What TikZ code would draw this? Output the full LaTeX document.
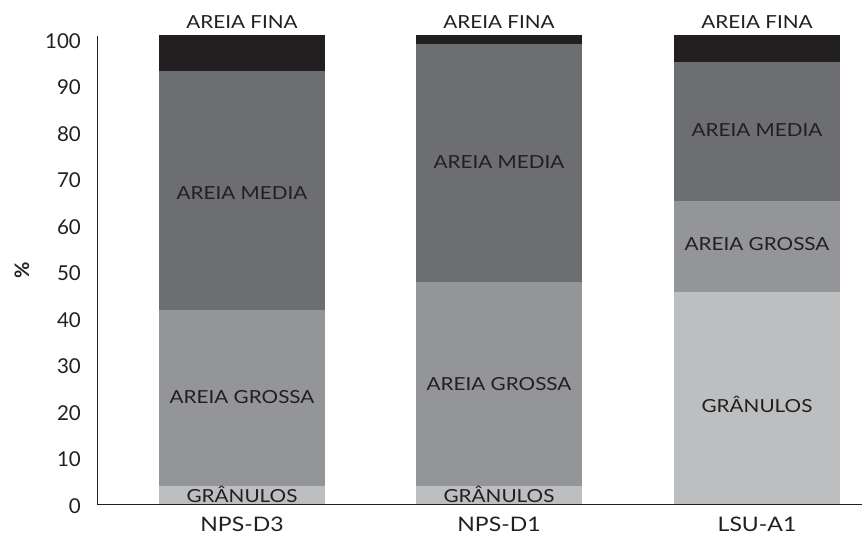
\documentclass[tikz,border=0pt]{standalone}
\usepackage{fontspec}
\setmainfont{Lato}
\newfontfamily\widelato[FakeStretch=1.15]{Lato}
\definecolor{cfina}{HTML}{231F20}
\definecolor{cmedia}{HTML}{6D6E71}
\definecolor{cgrossa}{HTML}{939598}
\definecolor{cgran}{HTML}{BCBEC0}
\definecolor{ctext}{HTML}{231F20}
\begin{document}
\begin{tikzpicture}[x=1pt,y=-1pt,
  lab/.style={text=ctext,font=\widelato\fontsize{18}{20}\selectfont,inner sep=0pt},
  ylab/.style={text=ctext,font=\fontsize{20.5}{22}\selectfont,anchor=east,inner sep=0pt},
  xlab/.style={text=ctext,font=\widelato\fontsize{20}{22}\selectfont,inner sep=0pt},
  axis/.style={draw=ctext,line width=1pt}]
\useasboundingbox (0,0) rectangle (862,539);
% bars: y(p) = 504 - 4.69 p
% NPS-D3
\fill[cgran]  (159,504) rectangle (325,486);
\fill[cgrossa](159,486) rectangle (325,310);
\fill[cmedia] (159,310) rectangle (325,71);
\fill[cfina]  (159,71)  rectangle (325,35);
% NPS-D1
\fill[cgran]  (416,504) rectangle (582,486);
\fill[cgrossa](416,486) rectangle (582,282);
\fill[cmedia] (416,282) rectangle (582,44);
\fill[cfina]  (416,44)  rectangle (582,35);
% LSU-A1
\fill[cgran]  (674,504) rectangle (840,292);
\fill[cgrossa](674,292) rectangle (840,201);
\fill[cmedia] (674,201) rectangle (840,62);
\fill[cfina]  (674,62)  rectangle (840,35);
% axes
\coordinate (ytop) at (97,36);
\coordinate (orig) at (97,504);
\coordinate (xend) at (862,504);
\draw[axis] (ytop) -- (orig) -- (xend);
% y labels
\foreach \v [count=\i from 0] in {100,90,80,70,60,50,40,30,20,10,0}
  \node[ylab] (y\v) at (81,{41+\i*46.5}) {\v};
\node[text=ctext,font=\bfseries\fontsize{20}{22}\selectfont,rotate=90,inner sep=0pt] (pct) at (22,270) {\%};
% segment labels
\node[lab] (f1) at (242,22) {AREIA FINA};
\node[lab] (f2) at (499,22) {AREIA FINA};
\node[lab] (f3) at (757,22) {AREIA FINA};
\node[lab] (m1) at (242,193) {AREIA MEDIA};
\node[lab] (m2) at (499,162) {AREIA MEDIA};
\node[lab] (m3) at (757,130) {AREIA MEDIA};
\node[lab] (g1) at (242,397) {AREIA GROSSA};
\node[lab] (g2) at (499,384) {AREIA GROSSA};
\node[lab] (g3) at (757,244) {AREIA GROSSA};
\node[lab] (n1) at (242,494) {GRÂNULOS};
\node[lab] (n2) at (499,494) {GRÂNULOS};
\node[lab] (n3) at (757,404) {GRÂNULOS};
% x labels
\node[xlab] (xa) at (242,524) {NPS-D3};
\node[xlab] (xb) at (499,524) {NPS-D1};
\node[xlab] (xc) at (757,524) {LSU-A1};
\end{tikzpicture}
\end{document}
